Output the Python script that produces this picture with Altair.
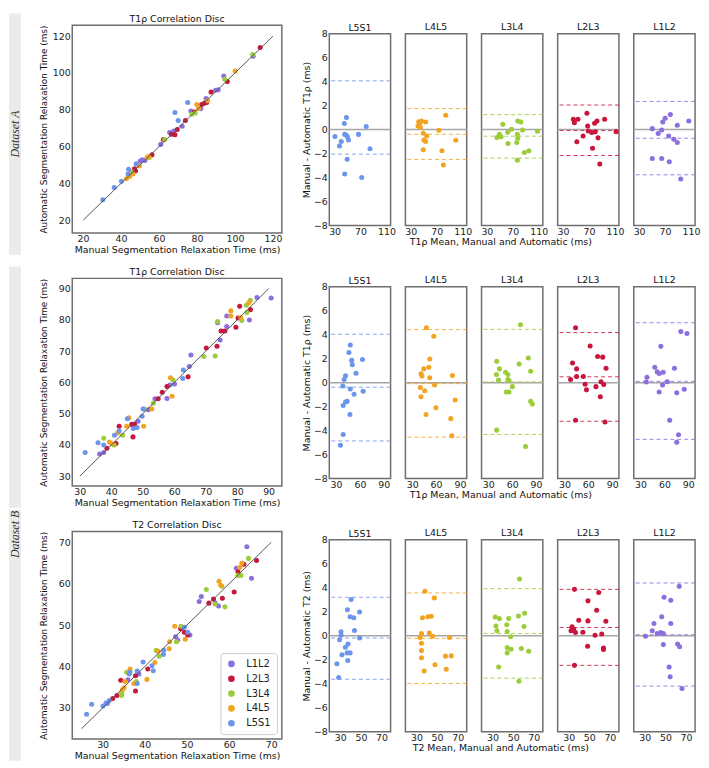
import altair as alt
import pandas as pd

FONT = "DejaVu Sans"
LEVELS = ["L5S1", "L4L5", "L3L4", "L2L3", "L1L2"]
LEGEND_ORDER = ["L1L2", "L2L3", "L3L4", "L4L5", "L5S1"]
LEGEND_COLORS = ["#8c6fde", "#c8163c", "#9ccc3a", "#f2a420", "#6c95ec"]
COLOR_OF = dict(zip(LEGEND_ORDER, LEGEND_COLORS))

# ---------------- Scatter (correlation) data ----------------
SC_A_MANUAL = {
    "L1L2": [51.1, 52.6, 60.9, 65.6, 67.8, 72.2, 76.8, 82.0, 84.8, 89.8, 91.2, 94.1, 109.6, 50.0],
    "L2L3": [45.9, 47.6, 47.1, 56.3, 62.3, 66.5, 68.4, 69.6, 73.9, 78.5, 82.5, 83.9, 85.1, 87.4, 96.0, 113.3],
    "L3L4": [45.4, 54.9, 63.0, 77.3, 79.1, 94.6, 109.3],
    "L4L5": [42.8, 44.5, 46.3, 48.8, 49.7, 53.7, 54.4, 79.9, 80.8, 85.6, 100.1],
    "L5S1": [30.4, 36.4, 40.2, 43.7, 44.0, 48.0, 68.4, 70.1, 75.1],
}
SC_A_AUTO = {
    "L1L2": [52.9, 52.4, 61.2, 67.6, 68.4, 71.0, 79.3, 80.6, 86.1, 90.6, 90.9, 98.4, 109.1, 52.0],
    "L2L3": [46.3, 46.8, 48.0, 55.5, 63.8, 66.7, 66.4, 69.3, 74.2, 78.8, 82.8, 83.5, 84.0, 89.7, 95.3, 113.8],
    "L3L4": [46.5, 54.1, 63.8, 77.6, 78.3, 96.6, 110.0],
    "L4L5": [42.5, 43.7, 45.1, 50.3, 49.4, 54.1, 54.6, 82.8, 80.6, 84.9, 101.1],
    "L5S1": [31.1, 37.8, 41.1, 45.1, 47.7, 50.6, 78.5, 74.2, 84.0],
}
SC_B_MANUAL = {
    "L1L2": [36.3, 37.6, 48.5, 51.8, 53.9, 57.7, 58.6, 60.1, 64.8, 65.3, 74.6, 76.7, 73.8, 76.7, 83.9, 86.3, 90.8],
    "L2L3": [38.6, 41.5, 42.5, 46.5, 47.4, 46.9, 54.9, 56.2, 57.7, 64.4, 70.2, 73.6, 74.9, 76.1, 79.6, 80.3, 80.8, 84.2],
    "L3L4": [37.6, 40.9, 43.6, 50.5, 53.4, 59.6, 69.4, 73.0, 73.8, 81.5, 83.1, 82.9, 84.2],
    "L4L5": [39.4, 40.2, 42.0, 45.6, 44.9, 50.3, 52.9, 59.3, 58.8, 78.0, 78.0, 81.1, 83.7],
    "L5S1": [31.7, 35.8, 37.6, 41.0, 42.5, 45.1, 47.0, 48.2, 49.8, 50.1, 62.7, 62.9],
}
SC_B_AUTO = {
    "L1L2": [37.1, 37.6, 47.6, 51.3, 54.8, 54.9, 59.2, 59.5, 65.1, 68.8, 73.6, 77.9, 79.1, 81.3, 80.0, 87.2, 87.0],
    "L2L3": [39.0, 40.5, 46.0, 46.6, 46.6, 42.6, 54.8, 56.9, 58.7, 61.8, 71.0, 71.6, 76.5, 76.5, 77.7, 80.6, 84.4, 83.3],
    "L3L4": [42.2, 40.0, 43.1, 51.5, 53.4, 60.8, 68.3, 68.5, 79.5, 79.8, 82.4, 84.7, 86.3],
    "L4L5": [41.0, 40.4, 43.8, 48.7, 46.0, 46.0, 51.5, 55.6, 61.5, 82.9, 81.3, 80.8, 85.5],
    "L5S1": [37.6, 40.7, 40.0, 43.1, 44.5, 48.4, 45.3, 45.6, 49.2, 51.5, 61.3, 64.0],
}
SC_C_MANUAL = {
    "L1L2": [31.1, 36.0, 38.6, 47.3, 47.8, 50.7, 52.9, 53.4, 56.7, 57.5, 61.7, 65.3, 64.2],
    "L2L3": [32.4, 33.4, 34.3, 37.8, 37.8, 40.7, 48.5, 49.4, 50.2, 55.2, 56.3, 58.4, 61.2, 62.1, 63.5, 66.5],
    "L3L4": [34.5, 34.5, 35.7, 38.0, 42.7, 43.4, 47.5, 48.6, 54.6, 56.7, 59.0, 58.3, 62.1, 62.8, 64.6],
    "L4L5": [34.7, 35.1, 35.3, 36.5, 37.4, 40.5, 42.4, 43.2, 45.8, 45.9, 47.1, 49.6, 57.6, 58.0, 62.5, 63.0],
    "L5S1": [26.2, 27.4, 30.1, 30.8, 31.6, 36.3, 36.5, 38.2, 38.2, 39.6, 41.7, 42.0, 44.5, 44.4, 49.4, 50.2],
}
SC_C_AUTO = {
    "L1L2": [31.1, 36.8, 38.2, 47.2, 46.4, 47.6, 55.7, 56.9, 55.3, 54.6, 63.7, 61.3, 68.9],
    "L2L3": [32.3, 33.0, 36.7, 34.1, 37.8, 39.4, 49.1, 48.3, 47.6, 55.3, 56.3, 56.5, 58.0, 62.9, 64.7, 65.6],
    "L3L4": [33.0, 33.6, 38.6, 36.4, 43.9, 42.5, 46.0, 49.7, 58.6, 55.1, 54.4, 59.4, 62.0, 62.0, 66.1],
    "L4L5": [34.4, 34.9, 36.4, 39.4, 35.9, 36.9, 41.0, 43.7, 44.3, 46.0, 49.7, 46.6, 60.6, 59.6, 63.9, 64.9],
    "L5S1": [28.5, 30.9, 30.5, 31.2, 31.8, 38.2, 38.6, 38.9, 35.9, 41.1, 40.2, 39.0, 43.9, 42.9, 49.5, 48.3],
}

# ---------------- Bland-Altman data ----------------
BA_A_MEAN = {
    "L5S1": [30.5, 37.5, 40.2, 45.0, 48.2, 45.5, 48.0, 49.8, 51.4, 49.3, 45.5, 66.9, 71.7, 78.7, 84.5],
    "L4L5": [42.3, 43.9, 46.6, 53.0, 41.2, 45.0, 49.3, 54.6, 50.3, 53.0, 49.3, 73.3, 84.0, 78.1, 80.3, 99.5],
    "L3L4": [54.6, 45.5, 49.3, 51.9, 62.1, 68.0, 77.6, 82.4, 85.0, 77.0, 77.6, 62.6, 76.0, 87.8, 94.7, 77.0, 108.0],
    "L2L3": [46.0, 53.0, 47.6, 66.9, 68.0, 61.0, 51.4, 69.0, 74.4, 79.7, 78.7, 82.4, 84.0, 75.5, 86.7, 94.2, 111.8],
    "L1L2": [50.3, 59.4, 64.8, 66.4, 70.1, 78.1, 75.5, 83.5, 88.8, 88.8, 106.5, 50.3, 64.8, 76.5, 94.2],
}
BA_A_DIFF = {
    "L5S1": [-0.58, -1.36, -1.0, 0.5, 1.0, -0.4, -0.47, -0.6, -0.86, -2.47, -3.7, -0.4, -4.0, 0.25, -1.6],
    "L4L5": [0.66, 0.53, 0.72, 0.64, 0.3, 0.17, -0.3, -0.53, -0.86, -1.0, -1.69, -0.06, 1.19, -1.77, -2.96, -0.89],
    "L3L4": [0.44, -0.66, -0.39, -0.6, -0.22, 0.03, 0.72, 0.64, -0.03, -0.39, -0.72, -1.16, -1.08, -1.91, -1.77, -2.55, -0.14],
    "L2L3": [0.86, 0.86, 0.58, 1.36, 0.3, -0.53, -1.02, -0.11, -0.25, -0.19, 0.53, 0.72, -0.69, -1.55, -2.88, 0.86, -0.17],
    "L1L2": [0.08, -0.33, -0.03, 0.64, 0.94, 1.25, -0.53, -0.8, -1.08, 0.36, 0.72, -2.41, -2.41, -2.69, -4.13],
}
BA_A_LINES = {
    "L5S1": [4.07, -2.05],
    "L4L5": [1.75, -0.39, -2.49],
    "L3L4": [1.25, -0.55, -2.38],
    "L2L3": [2.05, -0.08, -2.16],
    "L1L2": [2.35, -0.72, -3.77],
}

BA_B1_MEAN = {
    "L5S1": [47.9, 46.2, 49.6, 50.4, 63.2, 55.1, 41.9, 40.2, 38.5, 47.9, 52.6, 64.0, 44.0, 41.9, 38.9, 47.4, 38.9, 35.5],
    "L4L5": [47.9, 57.2, 52.1, 44.5, 50.9, 41.1, 42.3, 52.1, 58.1, 40.2, 45.7, 41.1, 47.4, 59.8, 84.0, 80.6, 78.5, 79.8],
    "L3L4": [40.6, 44.0, 40.2, 42.8, 51.7, 54.7, 54.7, 56.0, 60.2, 52.6, 56.0, 68.7, 80.2, 83.2, 83.2, 85.3, 70.4, 40.6, 76.8],
    "L2L3": [44.0, 40.2, 45.3, 37.7, 45.3, 53.8, 62.3, 71.7, 78.1, 82.3, 56.0, 57.7, 69.6, 76.0, 79.4, 75.1, 44.0, 81.0],
    "L1L2": [38.1, 37.2, 47.9, 50.9, 53.4, 58.5, 55.5, 57.7, 53.4, 63.6, 72.6, 75.5, 66.6, 77.7, 75.5, 80.6, 88.3, 84.9],
}
BA_B1_DIFF = {
    "L5S1": [3.14, 2.51, 1.86, 1.5, 1.94, 0.79, 0.57, 0.27, -0.27, -0.52, -0.96, -0.71, -1.56, -1.61, -1.91, -2.65, -4.32, -5.22],
    "L4L5": [4.59, 3.88, 1.97, 1.15, 1.28, 0.74, 0.55, 0.41, -0.19, -0.41, -0.68, -1.17, -2.65, -2.1, -1.45, 0.6, -3.0, -4.43],
    "L3L4": [1.78, 1.15, 0.68, 0.22, 0.87, 0.68, 0.27, 0.19, -0.33, -0.77, -0.77, 1.56, 2.05, 0.96, -1.56, -1.78, 4.84, -3.96, -5.33],
    "L2L3": [4.59, 1.64, 1.15, 0.27, 0.52, 0.52, 3.06, 2.19, 2.13, 1.2, -0.14, -0.6, -0.33, 0.08, -0.16, -1.17, -3.14, -3.28],
    "L1L2": [0.46, 0.05, 1.28, 0.9, 0.77, 0.87, 3.03, -0.19, -0.77, 0.08, 1.2, -0.85, -3.14, -4.34, -4.97, 4.26, 4.1, -0.55],
}
BA_B1_LINES = {
    "L5S1": [4.04, -0.38, -4.86],
    "L4L5": [4.43, -0.08, -4.54],
    "L3L4": [4.45, 0.06, -4.32],
    "L2L3": [4.18, 0.49, -3.22],
    "L1L2": [5.0, 0.11, -4.73],
}

BA_B2_MEAN = {
    "L5S1": [40.5, 36.9, 39.5, 43.1, 48.7, 43.8, 30.7, 30.7, 29.3, 48.7, 37.5, 34.9, 31.6, 39.5, 36.6, 37.2, 26.7, 28.4],
    "L4L5": [38.2, 47.4, 35.9, 41.1, 44.4, 34.9, 42.5, 45.7, 33.6, 34.9, 34.9, 34.9, 37.5, 48.0, 58.2, 63.8, 58.9, 62.1],
    "L3L4": [56.2, 32.6, 36.6, 33.3, 34.3, 45.7, 43.8, 44.2, 47.5, 55.2, 61.1, 60.5, 44.2, 48.0, 44.2, 57.9, 65.1, 35.9, 55.6],
    "L2L3": [35.6, 59.2, 48.7, 57.2, 39.8, 48.7, 66.1, 33.3, 32.3, 34.9, 36.6, 43.8, 55.6, 62.1, 48.4, 63.8, 63.8, 35.6],
    "L1L2": [30.7, 38.9, 37.2, 42.1, 46.4, 45.4, 48.0, 48.0, 48.7, 55.2, 55.2, 61.8, 63.8, 63.4, 53.6, 54.6, 66.1],
}
BA_B2_DIFF = {
    "L5S1": [3.02, 2.17, 1.59, 1.51, 1.98, 0.44, 0.33, 0.05, -0.33, -0.19, -0.69, -0.96, -1.59, -1.43, -1.43, -2.06, -2.34, -3.49],
    "L4L5": [3.71, 3.16, 1.51, 1.59, 1.62, 0.19, 0.22, -0.05, -0.14, -0.63, -1.24, -1.84, -2.94, -2.42, -1.7, -1.68, -2.8, -0.14],
    "L3L4": [4.73, 1.57, 1.43, 0.82, 0.41, 1.43, 0.91, 0.36, -0.08, 1.65, 1.87, 0.77, -0.99, -1.13, -1.43, -1.07, -1.29, -2.61, -3.79],
    "L2L3": [3.87, 3.6, 2.91, 2.12, 1.29, 1.24, 1.21, 0.74, 0.41, 0.52, 0.27, 0.3, 0.05, 0.14, -0.88, -1.02, -1.15, -2.47],
    "L1L2": [-0.05, 1.02, 0.41, 0.19, 1.59, 0.27, 0.19, -0.74, 3.21, 2.97, 1.02, -0.69, -0.91, 4.12, -2.61, -3.43, -4.4],
}
BA_B2_LINES = {
    "L5S1": [3.21, -0.19, -3.63],
    "L4L5": [3.57, -0.22, -3.98],
    "L3L4": [3.93, 0.19, -3.54],
    "L2L3": [3.87, 0.69, -2.47],
    "L1L2": [4.4, 0.08, -4.2],
}

# ---------------- axis settings ----------------
SC_A_TICKS = [20, 40, 60, 80, 100, 120]
SC_B_TICKS = [30, 40, 50, 60, 70, 80, 90]
SC_C_TICKS = [30, 40, 50, 60, 70]
SC_A_IDENTITY = [20, 120]
SC_B_IDENTITY = [30, 90]
SC_C_IDENTITY = [25, 70]
BA_Y_TICKS = [-8, -6, -4, -2, 0, 2, 4, 6, 8]

SC_W, SC_H = 212, 210
BA_W, BA_H = 62, 194
HSP = 18
GAP_B = 10          # gap filled by the "Dataset B" band between rows 2 and 3
BAND_X0, BAND_X1 = -64, -52   # side band, relative to the scatter's plot area
BAND_TOP, BAND_BOTTOM = -12, SC_H + 22


def side_band(top, bottom, label=None, label_y=None):
    layers = [alt.Chart(pd.DataFrame({"k": [0]})).mark_rect(color="#ebebeb").encode(
        x=alt.value(BAND_X0), x2=alt.value(BAND_X1), y=alt.value(top), y2=alt.value(bottom))]
    if label:
        layers.append(alt.Chart(pd.DataFrame({"label": [label]})).mark_text(
            angle=270, font="Liberation Serif", fontStyle="italic", fontSize=12, color="#333333",
            align="center", baseline="middle").encode(
            x=alt.value((BAND_X0 + BAND_X1) / 2), y=alt.value(label_y), text="label:N"))
    return layers


def scatter(man, auto, xdom, ydom, ticks, ident, title, legend, band_layers):
    rows = []
    for lv in LEGEND_ORDER:
        for m, a in zip(man[lv], auto[lv]):
            rows.append({"level": lv, "manual": m, "auto": a})
    df = pd.DataFrame(rows)
    x = alt.X("manual:Q", scale=alt.Scale(domain=xdom, nice=False, zero=False),
              axis=alt.Axis(values=ticks, title="Manual Segmentation Relaxation Time (ms)",
                            labelPadding=1, titlePadding=1))
    y = alt.Y("auto:Q", scale=alt.Scale(domain=ydom, nice=False, zero=False),
              axis=alt.Axis(values=ticks, title="Automatic Segmentation Relaxation Time (ms)",
                            minExtent=22, titleFontSize=9))
    if legend:
        leg = alt.Legend(title=None, orient="bottom-right", offset=5, strokeColor="#cccccc",
                         fillColor="white", padding=6, cornerRadius=3, symbolType="circle",
                         symbolSize=45, symbolStrokeWidth=0, labelFontSize=10, labelFont=FONT,
                         rowPadding=5, labelOffset=10)
        color = alt.Color("level:N", scale=alt.Scale(domain=LEGEND_ORDER, range=LEGEND_COLORS), legend=leg)
    else:
        color = alt.Color("level:N", scale=alt.Scale(domain=LEGEND_ORDER, range=LEGEND_COLORS), legend=None)
    pts = alt.Chart(df).mark_circle(size=26, opacity=1).encode(x=x, y=y, color=color)
    line = alt.Chart(pd.DataFrame({"manual": ident, "auto": ident})).mark_line(
        color="#555555", strokeWidth=1).encode(x=x, y=y)
    ttl = alt.Chart(pd.DataFrame({"t": [title]})).mark_text(
        font=FONT, fontSize=9.5, color="#111111", align="center", baseline="bottom").encode(
        x=alt.value(SC_W / 2), y=alt.value(-1), text="t:N")
    return alt.layer(*band_layers, ttl, pts, line).properties(width=SC_W, height=SC_H)


def ba_panel(lv, means, diffs, lines, xdom, xticks, first, ytitle, xtitle):
    col = COLOR_OF[lv]
    if xtitle:
        xaxis = alt.Axis(values=xticks, title=xtitle, titleX=BA_W / 2 - 12, labelPadding=1, titlePadding=1)
    else:
        xaxis = alt.Axis(values=xticks, title=None, labelPadding=1)
    x = alt.X("mean:Q", scale=alt.Scale(domain=xdom, nice=False, zero=False), axis=xaxis)
    yscale = alt.Scale(domain=[-8, 8], nice=False)
    if first:
        y = alt.Y("diff:Q", scale=yscale, axis=alt.Axis(values=BA_Y_TICKS, title=ytitle))
        ttl = alt.TitleParams(lv, frame="group", offset=2, dy=6)
    else:
        y = alt.Y("diff:Q", scale=yscale, axis=None)
        ttl = alt.TitleParams(lv, frame="group", offset=2)
    zero = alt.Chart(pd.DataFrame({"diff": [0]})).mark_rule(color="#a6a6a6", strokeWidth=1.5).encode(y=y)
    dashed = alt.Chart(pd.DataFrame({"diff": lines})).mark_rule(
        color=col, strokeDash=[4, 3], strokeWidth=1, opacity=0.85).encode(y=y)
    pts = alt.Chart(pd.DataFrame({"mean": means, "diff": diffs})).mark_circle(
        size=26, color=col, opacity=1).encode(x=x, y=y)
    return alt.layer(zero, dashed, pts).properties(width=BA_W, height=BA_H, title=ttl)


def ba_group(means, diffs, lines, xdom, xticks, ytitle, xtitle):
    panels = []
    for i, lv in enumerate(LEVELS):
        panels.append(ba_panel(lv, means[lv], diffs[lv], lines[lv], xdom, xticks,
                               i == 0, ytitle, xtitle if i == 2 else None))
    return alt.hconcat(*panels, spacing=15, bounds="flush").resolve_scale(color="independent")


def row(scatter_chart, ba_chart):
    return alt.hconcat(scatter_chart, ba_chart, spacing=HSP, center=True).resolve_scale(
        color="independent").resolve_legend(color="independent")


row1 = row(
    scatter(SC_A_MANUAL, SC_A_AUTO, [14.3, 124.7], [13.1, 125.9], SC_A_TICKS, SC_A_IDENTITY,
            "T1ρ Correlation Disc", False,
            side_band(BAND_TOP, BAND_BOTTOM, "Dataset A", (BAND_TOP + BAND_BOTTOM) / 2)),
    ba_group(BA_A_MEAN, BA_A_DIFF, BA_A_LINES, [21.8, 116.2], [30, 70, 110],
             "Manual - Automatic T1ρ (ms)", "T1ρ Mean, Manual and Automatic (ms)"),
)
row2 = row(
    scatter(SC_B_MANUAL, SC_B_AUTO, [27.6, 94.2], [26.9, 93.3], SC_B_TICKS, SC_B_IDENTITY,
            "T1ρ Correlation Disc", False,
            side_band(BAND_TOP, BAND_BOTTOM)),
    ba_group(BA_B1_MEAN, BA_B1_DIFF, BA_B1_LINES, [21.5, 98.5], [30, 60, 90],
             "Manual - Automatic T1ρ (ms)", "T1ρ Mean, Manual and Automatic (ms)"),
)
row3 = row(
    scatter(SC_C_MANUAL, SC_C_AUTO, [22.8, 72.5], [22.5, 72.6], SC_C_TICKS, SC_C_IDENTITY,
            "T2 Correlation Disc", True,
            side_band(BAND_TOP - GAP_B, BAND_BOTTOM, "Dataset B", BAND_TOP - GAP_B + 25)),
    ba_group(BA_B2_MEAN, BA_B2_DIFF, BA_B2_LINES, [19.3, 78.8], [30, 50, 70],
             "Manual - Automatic T2 (ms)", "T2 Mean, Manual and Automatic (ms)"),
)

rows23 = alt.vconcat(row2, row3, spacing=0).resolve_scale(
    color="independent").resolve_legend(color="independent")

chart = alt.vconcat(row1, rows23, spacing=10).resolve_scale(
    color="independent").resolve_legend(color="independent").properties(padding=0).configure_axis(
    grid=False, ticks=False, domain=False, labelFont=FONT, titleFont=FONT, labelFontSize=9.5,
    titleFontSize=9.5, labelColor="#222222", titleColor="#111111", titleFontWeight="normal",
    labelPadding=2, titlePadding=2,
).configure_title(
    font=FONT, fontSize=9.5, fontWeight="normal", offset=2, color="#111111", anchor="middle",
).configure_view(stroke="#6e6e6e", strokeWidth=1.5).configure_legend(labelColor="#222222")

chart.save("out.html", embed_options={"renderer": "svg", "actions": False})
